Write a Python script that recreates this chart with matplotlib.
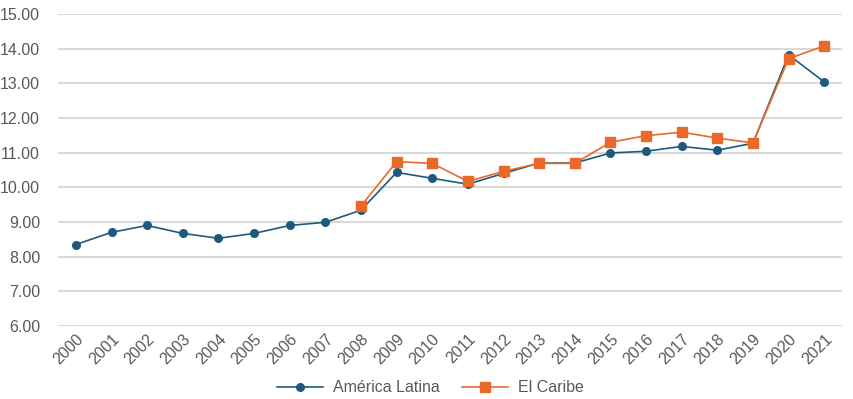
import matplotlib.pyplot as plt
from matplotlib.transforms import ScaledTranslation

years = [str(y) for y in range(2000, 2022)]
america_latina = [8.35, 8.70, 8.90, 8.67, 8.53, 8.67, 8.90, 8.99, 9.34, 10.43, 10.26,
                  10.09, 10.40, 10.70, 10.70, 10.99, 11.04, 11.18, 11.07, 11.27, 13.82, 13.04]
caribe_years = years[8:]
el_caribe = [9.46, 10.74, 10.69, 10.17, 10.46, 10.69, 10.69, 11.30, 11.49, 11.59,
             11.42, 11.28, 13.71, 14.08]

blue = '#1f5a7e'
orange = '#e8692a'
grey = '#595959'

plt.rcParams['font.family'] = ['Liberation Sans', 'DejaVu Sans']

fig = plt.figure(figsize=(8.54, 3.99), dpi=100)
ax = fig.add_axes([0.068, 0.183, 0.918, 0.782])

x_all = list(range(len(years)))
x_car = [years.index(y) for y in caribe_years]

ax.plot(x_all, america_latina, color=blue, marker='o', markersize=5.5, linewidth=1.2,
        label='América Latina', zorder=3)
ax.plot(x_car, el_caribe, color=orange, marker='s', markersize=6.5, linewidth=1.2,
        label='El Caribe', zorder=3)

ax.set_xlim(-0.5, len(years) - 0.5)
ax.set_ylim(6, 15)
ax.set_yticks(range(6, 16))
ax.set_yticklabels([f'{v:.2f}' for v in range(6, 16)])
ax.set_xticks(x_all)
ax.set_xticklabels(years, rotation=45, ha='right', rotation_mode='anchor')
shift = ScaledTranslation(-4 / 100, 0, fig.dpi_scale_trans)
for lab in ax.get_xticklabels():
    lab.set_transform(lab.get_transform() + shift)

ax.grid(axis='y', color='#d9d9d9', linewidth=1.5)
ax.set_axisbelow(True)
for s in ax.spines.values():
    s.set_visible(False)
ax.tick_params(length=0, colors=grey, labelsize=11.5)
ax.tick_params(axis='y', pad=13)
ax.tick_params(axis='x', pad=4)

fig.legend(loc='center', bbox_to_anchor=(430 / 854, 1 - 388 / 399), ncol=2, frameon=False,
           fontsize=11.5, labelcolor=grey, handlelength=2.9, handletextpad=0.6,
           columnspacing=1.4)

plt.savefig('out.png', dpi=100)
